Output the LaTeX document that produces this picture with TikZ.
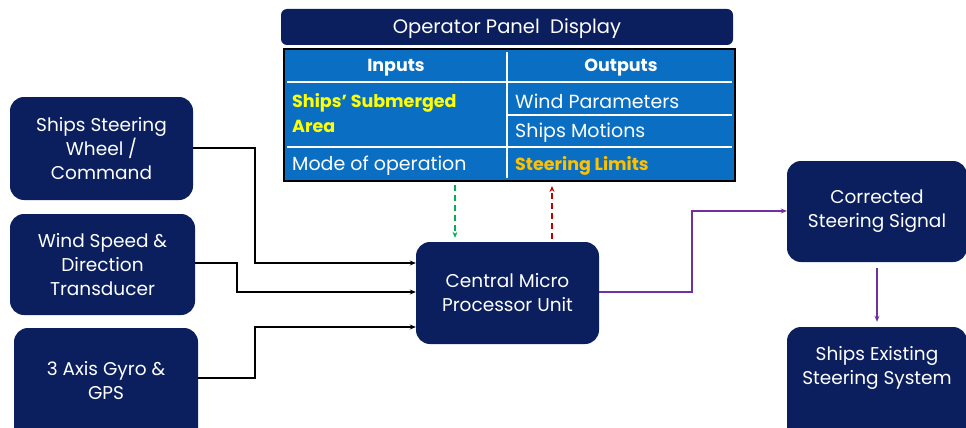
\documentclass[tikz,border=0pt]{standalone}
\usepackage{fontspec}
\setmainfont{Poppins}
\usetikzlibrary{arrows.meta,calc}
\definecolor{navy}{HTML}{0B1F5E}
\definecolor{tblue}{HTML}{0A6FC2}
\definecolor{yel}{HTML}{FFFF00}
\definecolor{gold}{HTML}{FFC000}
\definecolor{purp}{HTML}{7030A0}
\definecolor{grn}{HTML}{00B050}
\definecolor{rd}{HTML}{C00000}
\tikzset{
  box/.style={fill=navy, rounded corners=14pt, draw=none, text=white, align=center, font=\fontsize{18.5}{24}\selectfont, inner sep=0pt},
  btxt/.style={text=white, align=center, font=\fontsize{18.5}{24}\selectfont, inner sep=0pt},
  cell/.style={text=white, font=\fontsize{19}{25}\selectfont, inner sep=0pt, anchor=west, align=left},
  bcell/.style={cell, font=\fontsize{17.5}{25}\selectfont\bfseries},
  conn/.style={draw=black, line width=1.3pt, -{Stealth[length=6pt,width=5pt]}},
  pconn/.style={draw=purp, line width=1.4pt, -{Stealth[length=6pt,width=5pt]}},
  sep/.style={draw=white, line width=2pt},
}
\begin{document}
\begin{tikzpicture}[x=1pt,y=-1pt]
\useasboundingbox (0,0) rectangle (966,428);
% title
\node[fill=navy, rounded corners=6pt, minimum width=452pt, minimum height=36pt, inner sep=0pt] (title) at (507,27) {};
\node[btxt, font=\fontsize{19.5}{22}\selectfont] (titletxt) at (507,29) {Operator Panel\ \ Display};
% table
\node[fill=tblue, draw=black, line width=2pt, minimum width=451pt, minimum height=132pt, inner sep=0pt] (table) at (509.5,115) {};
\draw[sep] (507,52) -- (507,178);
\draw[sep] (287,82) -- (732,82);
\draw[sep] (287,147) -- (732,147);
\draw[sep] (508,115) -- (732,115);
\node[bcell, anchor=center] (inputs) at (396,68) {Inputs};
\node[bcell, anchor=center] (outputs) at (621,68) {Outputs};
\node[bcell, text=yel] (area) at (292,113) {Ships’ Submerged\\Area};
\node[cell] (wind) at (515,101) {Wind Parameters};
\node[cell] (motions) at (515,133) {Ships Motions};
\node[cell] (mode) at (292,166) {Mode of operation};
\node[bcell, text=gold] (limits) at (515,166) {Steering Limits};
% boxes
\node[box, minimum width=183pt, minimum height=103pt] (wheel) at (101.5,148.5) {Ships Steering\\Wheel /\\Command};
\node[box, minimum width=185pt, minimum height=101pt] (windt) at (102.5,264.5) {Wind Speed \&\\Direction\\Transducer};
\node[box, minimum width=184pt, minimum height=130pt] (gyro) at (106,393) {};
\node[btxt] (gyrotxt) at (106,381) {3 Axis Gyro \&\\GPS};
\node[box, minimum width=183pt, minimum height=102pt] (cpu) at (507.5,293) {Central Micro\\Processor Unit};
\node[box, minimum width=180pt, minimum height=101pt] (corr) at (877,211.5) {Corrected\\Steering Signal};
\node[box, minimum width=180pt, minimum height=130pt] (exist) at (877,392) {};
\node[btxt] (existtxt) at (877,368) {Ships Existing\\Steering System};
% connectors
\draw[conn] (wheel.east |- 0,148) -| (255,263) -- (cpu.west |- 0,263);
\draw[conn] (windt.east |- 0,263) -| (237,292) -- (cpu.west |- 0,292);
\draw[conn] (gyro.east |- 0,378) -| (255,327) -- (cpu.west |- 0,327);
\draw[pconn] (cpu.east |- 0,292) -| (692,211) -- (corr.west |- 0,211);
\draw[pconn] (corr.south) ++(0,6) -- ($(exist.north)+(0,-5)$);
\draw[draw=grn, line width=1.4pt, dash pattern=on 6pt off 4pt, -{Stealth[length=6pt,width=5pt]}] (table.south -| 455,0) ++(0,3) -- ($(cpu.north -| 455,0)+(0,-4)$);
\draw[draw=rd, line width=1.4pt, dash pattern=on 6pt off 4pt, -{Stealth[length=6pt,width=5pt]}] ($(cpu.north -| 552,0)+(0,-3)$) -- ($(table.south -| 552,0)+(0,4)$);
\end{tikzpicture}
\end{document}
